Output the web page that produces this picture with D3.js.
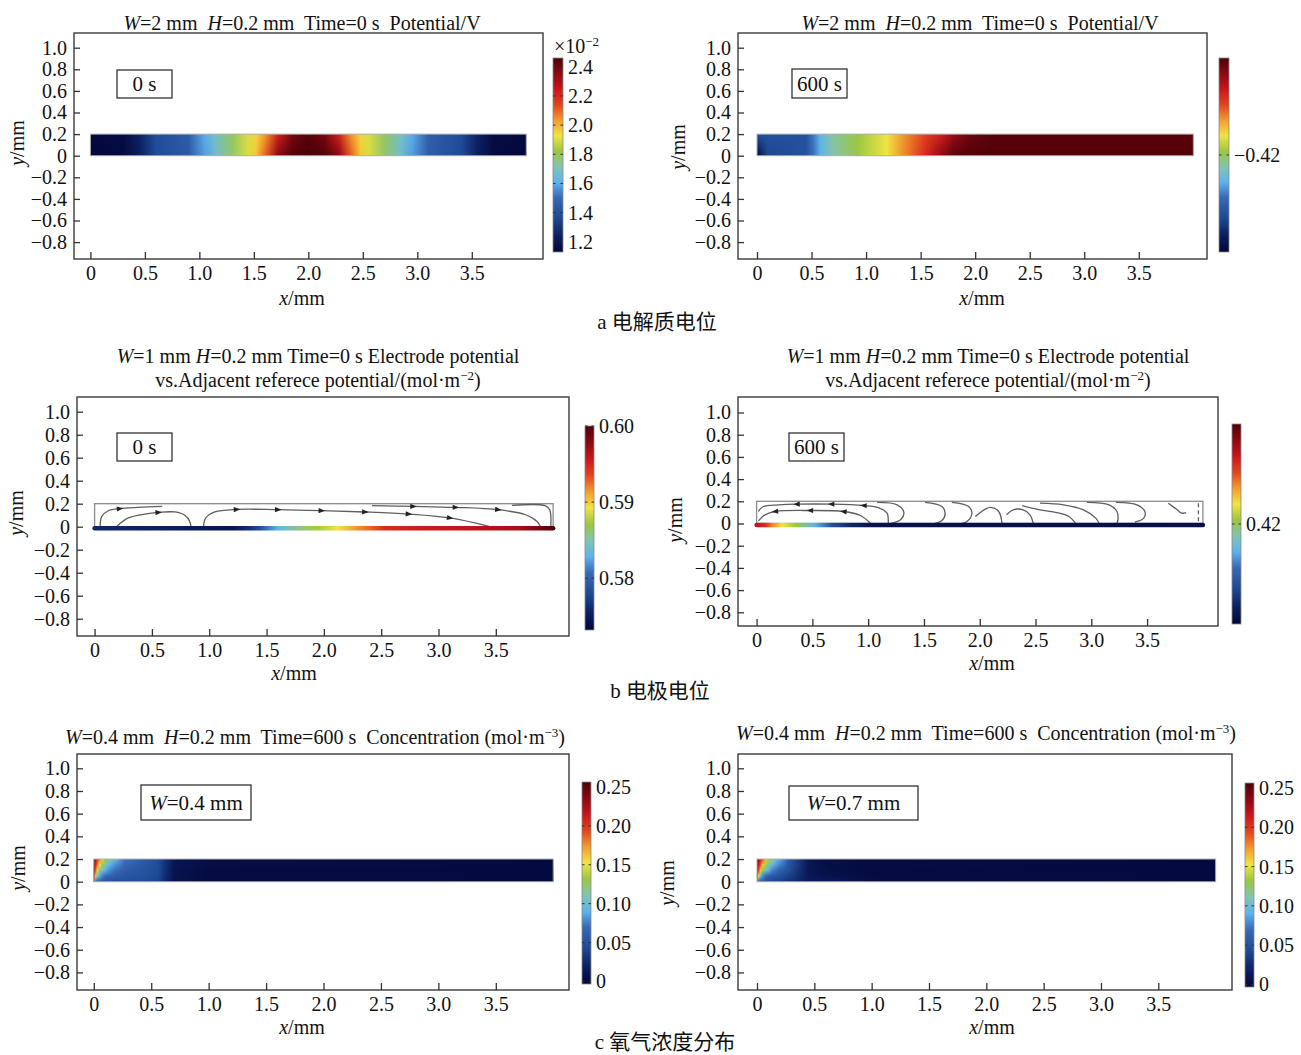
<!DOCTYPE html>
<html><head><meta charset="utf-8">
<script src="https://cdn.jsdelivr.net/npm/d3@7"></script>
<style>
body{margin:0;background:#fff}
svg text{font-family:"Liberation Serif","Times New Roman",serif;fill:#111;white-space:pre}
.cjk{font-family:"Noto Sans CJK SC",sans-serif}
</style></head><body>
<svg id="fig" width="1301" height="1055"></svg>
<script>
// ---- data ----
const xTicks = [0, 0.5, 1.0, 1.5, 2.0, 2.5, 3.0, 3.5];
const yTicks = [1.0, 0.8, 0.6, 0.4, 0.2, 0, -0.2, -0.4, -0.6, -0.8];

// a: electrolyte potential, along x at the top (y=0.2) and bottom (y=0) of the channel
const potXs0 = [0, 0.3, 0.45, 0.6, 0.9, 1.05, 1.15, 1.3, 1.45, 1.52, 1.6, 1.72, 1.85, 2.0, 2.15, 2.28, 2.4, 2.48, 2.55, 2.7, 2.85, 2.95, 3.1, 3.4, 3.55, 3.7, 4.0];
const potTop0 = [1.15, 1.16, 1.25, 1.38, 1.45, 1.6, 1.68, 1.79, 1.9, 1.95, 2.03, 2.22, 2.38, 2.45, 2.38, 2.22, 2.03, 1.95, 1.9, 1.79, 1.68, 1.6, 1.46, 1.38, 1.25, 1.16, 1.15];
const potBot0 = [1.13, 1.15, 1.24, 1.37, 1.44, 1.58, 1.66, 1.78, 1.9, 1.97, 2.1, 2.35, 2.45, 2.47, 2.45, 2.35, 2.1, 1.97, 1.9, 1.78, 1.66, 1.58, 1.45, 1.37, 1.24, 1.15, 1.13];
const potTicks0 = [1.2, 1.4, 1.6, 1.8, 2.0, 2.2, 2.4];

const potXs600 = [0, 0.1, 0.45, 0.52, 0.58, 0.69, 0.92, 1.19, 1.38, 1.55, 1.68, 1.8, 1.95, 2.15, 4.0];
const potTop600 = [-0.426, -0.426, -0.426, -0.424, -0.4226, -0.421, -0.4196, -0.418, -0.416, -0.4146, -0.4136, -0.412, -0.4108, -0.4103, -0.4103];
const potBot600 = [-0.43, -0.4265, -0.426, -0.4242, -0.4228, -0.4212, -0.4197, -0.418, -0.4158, -0.4138, -0.4118, -0.4105, -0.4102, -0.4102, -0.4102];
const potTicks600 = [-0.42];

// b: electrode potential along the electrode (y=0)
const elecXs0 = [0, 0.7, 1.2, 1.35, 1.45, 1.6, 1.78, 1.95, 2.12, 2.33, 2.53, 2.8, 3.3, 3.7, 3.9, 4.0];
const elecVals0 = [0.5759, 0.5753, 0.5745, 0.5764, 0.5786, 0.5831, 0.5858, 0.5874, 0.5893, 0.5920, 0.5946, 0.5954, 0.5960, 0.5968, 0.5987, 0.6000];
const elecTicks0 = [0.58, 0.59, 0.60];
const elecXs600 = [0, 0.08, 0.14, 0.23, 0.35, 0.52, 0.67, 0.85, 1.03, 4.0];
const elecVals600 = [0.434, 0.432, 0.428, 0.424, 0.4208, 0.4148, 0.408, 0.404, 0.4016, 0.4012];
const elecTicks600 = [0.42];

// b: current streamlines (mm), arrows at listed point indices
const streams0 = [
  {pts: [[0.048, 0], [0.063, 0.09], [0.12, 0.139], [0.22, 0.157], [0.38, 0.168], [0.59, 0.177]], arrows: [3]},
  {pts: [[0.19, 0], [0.295, 0.076], [0.44, 0.11], [0.557, 0.124], [0.7, 0.128], [0.79, 0.098], [0.83, 0.046], [0.84, 0]], arrows: [3]},
  {pts: [[0.95, 0], [0.97, 0.076], [1.05, 0.128], [1.24, 0.15], [1.6, 0.148], [1.98, 0.139], [2.36, 0.128], [2.74, 0.11], [3.1, 0.076], [3.44, 0.003]], arrows: [3, 4, 5, 6, 7, 8]},
  {pts: [[2.42, 0.183], [2.78, 0.177], [3.15, 0.168], [3.52, 0.148], [3.76, 0.104], [3.86, 0.046], [3.89, 0]], arrows: [1, 2, 3]},
  {pts: [[3.64, 0.185], [3.93, 0.183], [3.97, 0.148], [3.98, 0]], arrows: []}
];
const streams600 = [
  {pts: [[1.18, 0], [1.18, 0.033], [1.17, 0.093], [1.09, 0.144], [0.96, 0.162], [0.67, 0.174], [0.36, 0.174], [0.2, 0.168], [0.06, 0.153], [0.016, 0.108]], arrows: [4, 5, 6]},
  {pts: [[1.02, 0.003], [0.93, 0.072], [0.78, 0.108], [0.48, 0.117], [0.166, 0.108], [0.076, 0.078], [0.016, 0.024]], arrows: [2, 3, 4]},
  {pts: [[1.08, 0.19], [1.26, 0.168], [1.32, 0.1], [1.29, 0.033], [1.2, 0]], arrows: []},
  {pts: [[1.51, 0.19], [1.66, 0.153], [1.69, 0.093], [1.66, 0.024], [1.6, 0]], arrows: []},
  {pts: [[1.75, 0.19], [1.9, 0.153], [1.93, 0.093], [1.885, 0.018], [1.84, 0]], arrows: []},
  {pts: [[1.96, 0.063], [2.05, 0.13], [2.1, 0.145], [2.17, 0.108], [2.2, 0]], arrows: []},
  {pts: [[2.24, 0.078], [2.3, 0.123], [2.39, 0.123], [2.45, 0.078], [2.48, 0]], arrows: []},
  {pts: [[2.38, 0.162], [2.54, 0.123], [2.69, 0.099], [2.8, 0.063], [2.86, 0]], arrows: []},
  {pts: [[2.54, 0.183], [2.75, 0.168], [2.93, 0.123], [3.04, 0.048], [3.07, 0]], arrows: []},
  {pts: [[2.96, 0.19], [3.16, 0.168], [3.23, 0.108], [3.24, 0.048], [3.23, 0]], arrows: []},
  {pts: [[3.22, 0.19], [3.41, 0.168], [3.48, 0.108], [3.47, 0.048], [3.39, 0.012]], arrows: []},
  {pts: [[3.69, 0.183], [3.77, 0.123], [3.81, 0.093], [3.85, 0.099]], arrows: []},
  {pts: [[3.96, 0.183], [3.96, 0.003]], arrows: [], dash: true}
];

// c: oxygen concentration, rows from top (y=0.2) to bottom (y=0)
const concXs = [0, 0.012, 0.03, 0.05, 0.075, 0.1, 0.14, 0.19, 0.27, 0.45, 0.56, 0.62, 0.7, 1.0, 4.0];
const concRowsY = [0.2, 0.15, 0.1, 0.05, 0];
const concW04 = [
  [0.25, 0.225, 0.2, 0.18, 0.155, 0.13, 0.11, 0.095, 0.072, 0.055, 0.046, 0.03, 0.01, 0.003, 0],
  [0.25, 0.215, 0.185, 0.155, 0.13, 0.11, 0.092, 0.08, 0.066, 0.053, 0.045, 0.029, 0.01, 0.003, 0],
  [0.245, 0.2, 0.155, 0.125, 0.105, 0.09, 0.078, 0.07, 0.06, 0.051, 0.044, 0.028, 0.009, 0.002, 0],
  [0.23, 0.16, 0.11, 0.088, 0.076, 0.069, 0.063, 0.058, 0.054, 0.049, 0.042, 0.026, 0.008, 0.002, 0],
  [0.19, 0.075, 0.062, 0.056, 0.052, 0.05, 0.049, 0.048, 0.047, 0.045, 0.04, 0.024, 0.007, 0.001, 0]
];
const concW07 = [
  [0.25, 0.23, 0.21, 0.19, 0.16, 0.135, 0.11, 0.09, 0.06, 0.012, 0.006, 0.004, 0.003, 0.001, 0],
  [0.25, 0.22, 0.19, 0.16, 0.135, 0.115, 0.095, 0.078, 0.055, 0.012, 0.006, 0.004, 0.003, 0.001, 0],
  [0.245, 0.2, 0.16, 0.13, 0.105, 0.09, 0.075, 0.064, 0.048, 0.012, 0.007, 0.005, 0.004, 0.001, 0],
  [0.23, 0.155, 0.1, 0.08, 0.068, 0.06, 0.054, 0.05, 0.04, 0.013, 0.009, 0.008, 0.007, 0.002, 0],
  [0.19, 0.07, 0.055, 0.05, 0.047, 0.045, 0.042, 0.038, 0.03, 0.015, 0.014, 0.013, 0.012, 0.003, 0]
];
const concTicks = [0, 0.05, 0.10, 0.15, 0.20, 0.25];

// ---- colour map (COMSOL rainbow look) ----
const cmapPos = [0, 0.08, 0.18, 0.28, 0.36, 0.44, 0.52, 0.6, 0.68, 0.76, 0.84, 0.92, 1];
const cmapCol = ['#03073a', '#0c1d5e', '#1f4b95', '#3868b6', '#5db3ee', '#82c4b0', '#9cc73f', '#f1e443', '#f39a2d', '#e2431f', '#c9151c', '#8a0913', '#4d0008'];
const cmap = d3.scaleLinear().domain(cmapPos).range(cmapCol).clamp(true);
const colorFor = dom => { const n = d3.scaleLinear().domain(dom).range([0, 1]); return v => cmap(n(v)); };

const fmtTick = d => d === 0 ? '0' : d3.format('.1f')(d);
const FS = '20px';

const svg = d3.select('#fig');
const defs = svg.append('defs');

function rich(text, segs){
  let shift = 0;
  segs.forEach(s => {
    const ts = text.append('tspan').text(s.t);
    if(s.i) ts.style('font-style', 'italic');
    if(s.sup){ ts.attr('dy', -7).style('font-size', '13px'); shift = 7; }
    else if(shift){ ts.attr('dy', shift); shift = 0; }
  });
}

// field drawn as horizontal gradient rows, blended vertically with masks
function strip(g, x, y, p, xs, rows, rowYs, dom){
  const col = colorFor(dom);
  const X0 = x(0), X1 = x(4), Y0 = y(0.2), Y1 = y(0);
  rows.forEach((vals, k) => {
    const gid = p.id + 'r' + k;
    const lg = defs.append('linearGradient').attr('id', gid).attr('gradientUnits', 'userSpaceOnUse')
      .attr('x1', X0).attr('x2', X1).attr('y1', 0).attr('y2', 0);
    xs.forEach((xv, i) => lg.append('stop').attr('offset', (x(xv) - X0) / (X1 - X0)).attr('stop-color', col(vals[i])));
    const r = g.append('rect').attr('x', X0).attr('y', Y0).attr('width', X1 - X0).attr('height', Y1 - Y0)
      .attr('fill', `url(#${gid})`);
    if(k > 0){
      const mg = defs.append('linearGradient').attr('id', gid + 'm').attr('gradientUnits', 'userSpaceOnUse')
        .attr('x1', 0).attr('x2', 0).attr('y1', y(rowYs[k - 1])).attr('y2', y(rowYs[k]));
      mg.append('stop').attr('offset', 0).attr('stop-color', '#fff').attr('stop-opacity', 0);
      mg.append('stop').attr('offset', 1).attr('stop-color', '#fff').attr('stop-opacity', 1);
      defs.append('mask').attr('id', gid + 'k').attr('maskUnits', 'userSpaceOnUse')
        .attr('x', X0 - 2).attr('y', Y0 - 2).attr('width', X1 - X0 + 4).attr('height', Y1 - Y0 + 4)
        .append('rect').attr('x', X0 - 2).attr('y', Y0 - 2).attr('width', X1 - X0 + 4).attr('height', Y1 - Y0 + 4)
        .attr('fill', `url(#${gid}m)`);
      r.attr('mask', `url(#${gid}k)`);
    }
  });
  g.append('rect').attr('x', X0).attr('y', Y0).attr('width', X1 - X0).attr('height', Y1 - Y0)
    .attr('fill', 'none').attr('stroke', '#b0b0b0').attr('stroke-width', 1);
}

function electrode(g, x, y, p, xs, vals, dom, streams){
  const col = colorFor(dom);
  const X0 = x(0), X1 = x(4);
  g.append('rect').attr('x', X0).attr('y', y(0.2)).attr('width', X1 - X0).attr('height', y(0) - y(0.2))
    .attr('fill', 'none').attr('stroke', '#8c8c8c').attr('stroke-width', 1.3);
  const line = d3.line().x(d => x(d[0])).y(d => y(d[1])).curve(d3.curveCatmullRom);
  streams.forEach(s => {
    g.append('path').datum(s.pts).attr('d', line).attr('fill', 'none')
      .attr('stroke', '#5e5e5e').attr('stroke-width', 1.3)
      .attr('stroke-dasharray', s.dash ? '4,3' : null);
    s.arrows.forEach(i => {
      const a = s.pts[i - 1], b = s.pts[i + 1], c = s.pts[i];
      const ang = Math.atan2(y(b[1]) - y(a[1]), x(b[0]) - x(a[0])) * 180 / Math.PI;
      g.append('path').attr('d', 'M3.5,0L-3,-2.6L-3,2.6Z').attr('fill', '#222')
        .attr('transform', `translate(${x(c[0])},${y(c[1])}) rotate(${ang})`);
    });
  });
  const gid = p.id + 'e';
  const lg = defs.append('linearGradient').attr('id', gid).attr('gradientUnits', 'userSpaceOnUse')
    .attr('x1', X0).attr('x2', X1).attr('y1', 0).attr('y2', 0);
  xs.forEach((xv, i) => lg.append('stop').attr('offset', (x(xv) - X0) / (X1 - X0)).attr('stop-color', col(vals[i])));
  g.append('line').attr('x1', X0).attr('x2', X1).attr('y1', y(0) + 1.5).attr('y2', y(0) + 1.5)
    .attr('stroke', `url(#${gid})`).attr('stroke-width', 4.5).attr('stroke-linecap', 'round');
}

const titleA = [{t: 'W', i: 1}, {t: '=2 mm  '}, {t: 'H', i: 1}, {t: '=0.2 mm  Time=0 s  Potential/V'}];
const titleB = [[{t: 'W', i: 1}, {t: '=1 mm '}, {t: 'H', i: 1}, {t: '=0.2 mm Time=0 s Electrode potential'}],
  [{t: 'vs.Adjacent referece potential/(mol·m'}, {t: '−2', sup: 1}, {t: ')'}]];
const titleC = [{t: 'W', i: 1}, {t: '=0.4 mm  '}, {t: 'H', i: 1}, {t: '=0.2 mm  Time=600 s  Concentration (mol·m'}, {t: '−3', sup: 1}, {t: ')'}];

const panels = [
  {id: 'a0', frame: [74, 33, 543, 259], xr: [90.4, 471.8], yr: [155.7, 47.7], title: [titleA], tx: 302, ty: [29.5],
   xlab: [302, 305], ylab: [24, 143], cbar: [553, 58, 563, 252], cdom: [1.13, 2.46], cticks: potTicks0, cfmt: d3.format('.1f'),
   box: [117, 70, 172, 98], boxText: [{t: '0 s'}], exp: true,
   field: (g, x, y, p) => strip(g, x, y, p, potXs0, [potTop0, potBot0], [0.2, 0], p.cdom)},
  {id: 'a6', frame: [738, 33, 1207, 259], xr: [757, 1138.8], yr: [155.7, 47.7], title: [titleA], tx: 980, ty: [29.5],
   xlab: [982, 305], ylab: [685, 147], cbar: [1219, 58, 1229, 252], cdom: [-0.43, -0.41], cticks: potTicks600, cfmt: d3.format('.2f'),
   box: [792, 69, 847, 98], boxText: [{t: '600 s'}],
   field: (g, x, y, p) => strip(g, x, y, p, potXs600, [potTop600, potBot600], [0.2, 0], p.cdom)},
  {id: 'b0', frame: [77, 397, 569, 636], xr: [94.6, 495.8], yr: [526.7, 411.7], title: titleB, tx: 318, ty: [363, 387],
   xlab: [294, 680], ylab: [23, 513], cbar: [585, 426, 594, 630], cdom: [0.5732, 0.6], cticks: elecTicks0, cfmt: d3.format('.2f'),
   box: [117, 433, 172, 461], boxText: [{t: '0 s'}],
   field: (g, x, y, p) => electrode(g, x, y, p, elecXs0, elecVals0, p.cdom, streams0)},
  {id: 'b6', frame: [738, 397, 1218, 626], xr: [756.6, 1147.1], yr: [523.5, 412.5], title: titleB, tx: 988, ty: [363, 387],
   xlab: [992, 670], ylab: [682, 520], cbar: [1232, 424, 1241, 624], cdom: [0.40, 0.44], cticks: elecTicks600, cfmt: d3.format('.2f'),
   box: [789, 433, 844, 461], boxText: [{t: '600 s'}],
   field: (g, x, y, p) => electrode(g, x, y, p, elecXs600, elecVals600, p.cdom, streams600)},
  {id: 'c0', frame: [77, 754, 569, 990], xr: [93.8, 495.8], yr: [881.7, 768.3], title: [titleC], tx: 315, ty: [744],
   xlab: [302, 1034], ylab: [25, 868], cbar: [582, 782, 591, 984], cdom: [-0.0033, 0.2564], cticks: concTicks, cfmt: d => d === 0 ? '0' : d3.format('.2f')(d),
   box: [141, 785, 251, 820], boxText: [{t: 'W', i: 1}, {t: '=0.4 mm'}],
   field: (g, x, y, p) => strip(g, x, y, p, concXs, concW04, concRowsY, p.cdom)},
  {id: 'c6', frame: [738, 754, 1232, 990], xr: [757, 1158.3], yr: [881.7, 768.3], title: [titleC], tx: 986, ty: [740],
   xlab: [992, 1034], ylab: [674, 883], cbar: [1245, 783, 1254, 987], cdom: [-0.0033, 0.2564], cticks: concTicks, cfmt: d => d === 0 ? '0' : d3.format('.2f')(d),
   box: [789, 786, 918, 820], boxText: [{t: 'W', i: 1}, {t: '=0.7 mm'}],
   field: (g, x, y, p) => strip(g, x, y, p, concXs, concW07, concRowsY, p.cdom)}
];

function drawPanel(p){
  const g = svg.append('g');
  const x = d3.scaleLinear().domain([0, 3.5]).range(p.xr);
  const y = d3.scaleLinear().domain([0, 1]).range(p.yr);
  const [fx0, fy0, fx1, fy1] = p.frame;

  p.field(g, x, y, p);

  g.append('rect').attr('x', fx0).attr('y', fy0).attr('width', fx1 - fx0).attr('height', fy1 - fy0)
    .attr('fill', 'none').attr('stroke', '#3a3a3a').attr('stroke-width', 1.4);

  const ax = g.append('g').attr('transform', `translate(0,${fy1})`)
    .call(d3.axisBottom(x).tickValues(xTicks).tickSize(-7).tickPadding(7).tickFormat(fmtTick));
  const ay = g.append('g').attr('transform', `translate(${fx0},0)`)
    .call(d3.axisLeft(y).tickValues(yTicks).tickSize(-6).tickPadding(7).tickFormat(fmtTick));
  [ax, ay].forEach(a => {
    a.select('.domain').remove();
    a.attr('font-family', null).attr('font-size', null);
    a.selectAll('line').attr('stroke', '#333').attr('stroke-width', 1.3);
    a.selectAll('text').attr('fill', '#111').style('font-size', FS);
  });

  // title
  p.title.forEach((segs, i) => {
    const t = g.append('text').attr('x', p.tx).attr('y', p.ty[i]).attr('text-anchor', 'middle').style('font-size', FS);
    rich(t, segs);
  });
  // axis labels
  const xl = g.append('text').attr('x', p.xlab[0]).attr('y', p.xlab[1]).attr('text-anchor', 'middle').style('font-size', FS);
  rich(xl, [{t: 'x', i: 1}, {t: '/mm'}]);
  const yl = g.append('text').attr('transform', `translate(${p.ylab[0]},${p.ylab[1]}) rotate(-90)`)
    .attr('text-anchor', 'middle').style('font-size', FS);
  rich(yl, [{t: 'y', i: 1}, {t: '/mm'}]);

  // annotation box
  const [bx0, by0, bx1, by1] = p.box;
  g.append('rect').attr('x', bx0).attr('y', by0).attr('width', bx1 - bx0).attr('height', by1 - by0)
    .attr('fill', '#fff').attr('stroke', '#333').attr('stroke-width', 1.3);
  const bt = g.append('text').attr('x', (bx0 + bx1) / 2).attr('y', (by0 + by1) / 2).attr('dy', '0.35em')
    .attr('text-anchor', 'middle').style('font-size', '21px');
  rich(bt, p.boxText);

  // colour bar
  const [cx0, cy0, cx1, cy1] = p.cbar;
  const cg = defs.append('linearGradient').attr('id', p.id + 'cb').attr('gradientUnits', 'userSpaceOnUse')
    .attr('x1', 0).attr('x2', 0).attr('y1', cy1).attr('y2', cy0);
  cmapPos.forEach((t, i) => cg.append('stop').attr('offset', t).attr('stop-color', cmapCol[i]));
  g.append('rect').attr('x', cx0).attr('y', cy0).attr('width', cx1 - cx0).attr('height', cy1 - cy0)
    .attr('fill', `url(#${p.id}cb)`).attr('stroke', '#8a8a8a').attr('stroke-width', 0.8);
  const cs = d3.scaleLinear().domain(p.cdom).range([cy1, cy0]);
  p.cticks.forEach(t => {
    g.append('line').attr('x1', cx0).attr('x2', cx0 + 2.5).attr('y1', cs(t)).attr('y2', cs(t)).attr('stroke', '#333').attr('stroke-width', 1);
    g.append('line').attr('x1', cx1 - 2.5).attr('x2', cx1).attr('y1', cs(t)).attr('y2', cs(t)).attr('stroke', '#333').attr('stroke-width', 1);
    g.append('text').attr('x', cx1 + 5).attr('y', cs(t)).attr('dy', '0.35em').style('font-size', FS).text(p.cfmt(t));
  });
  if(p.exp){
    const et = g.append('text').attr('x', cx0 + 1).attr('y', cy0 - 5).style('font-size', FS);
    rich(et, [{t: '×10'}, {t: '−2', sup: 1}]);
  }
}

panels.forEach(drawPanel);

// sub-figure captions
const captions = [['a', '电解质电位', 657, 322], ['b', '电极电位', 660, 691], ['c', '氧气浓度分布', 665, 1042]];
captions.forEach(([l, cn, cx, cy]) => {
  const t = svg.append('text').attr('x', cx).attr('y', cy).attr('dy', '0.35em').attr('text-anchor', 'middle').style('font-size', '21px');
  t.append('tspan').text(l + ' ');
  t.append('tspan').attr('class', 'cjk').text(cn);
});
</script></body></html>
